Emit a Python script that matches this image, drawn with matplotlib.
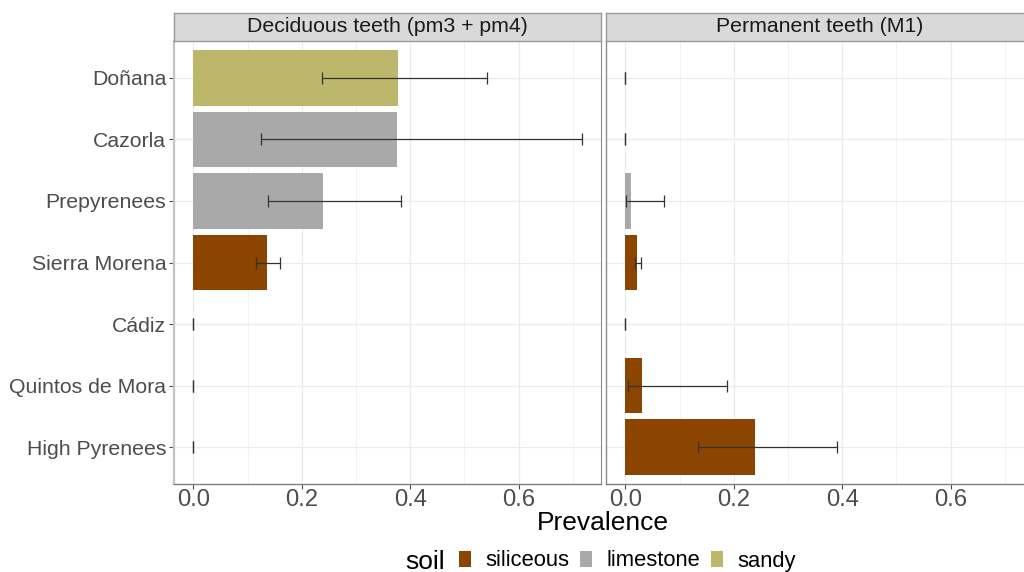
import matplotlib
matplotlib.use("Agg")
import matplotlib.pyplot as plt
from matplotlib.patches import Patch
from matplotlib.ticker import MultipleLocator

plt.rcParams['font.family'] = ['Liberation Sans', 'DejaVu Sans']

sites = ["Doñana", "Cazorla", "Prepyrenees", "Sierra Morena", "Cádiz",
         "Quintos de Mora", "High Pyrenees"]
soil = ["sandy", "limestone", "limestone", "siliceous", "siliceous",
        "siliceous", "siliceous"]

# prevalence with lower / upper confidence limits
deciduous = [0.378, 0.375, 0.239, 0.136, 0.0, 0.0, 0.0]
deciduous_lo = [0.238, 0.125, 0.137, 0.115, 0.0, 0.0, 0.0]
deciduous_hi = [0.542, 0.716, 0.382, 0.160, 0.0, 0.0, 0.0]

permanent = [0.0, 0.0, 0.0105, 0.021, 0.0, 0.031, 0.239]
permanent_lo = [0.0, 0.0, 0.002, 0.017, 0.0, 0.005, 0.134]
permanent_hi = [0.0, 0.0, 0.071, 0.028, 0.0, 0.187, 0.390]

panel_titles = ["Deciduous teeth (pm3 + pm4)", "Permanent teeth (M1)"]
soil_levels = ["siliceous", "limestone", "sandy"]
soil_colors = {"siliceous": "#8B4500", "limestone": "#A9A9A9", "sandy": "#BDB76B"}

fig = plt.figure(figsize=(10.24, 5.72), dpi=100)

H = 572
bottom = 1 - 484 / H
height = (484 - 41) / H
width = 427 / 1024
lefts = [174 / 1024, 606 / 1024]

ypos = list(range(len(sites), 0, -1))
panels = [(deciduous, deciduous_lo, deciduous_hi),
          (permanent, permanent_lo, permanent_hi)]

for i, (vals, lo, hi) in enumerate(panels):
    ax = fig.add_axes([lefts[i], bottom, width, height])
    ax.set_axisbelow(True)
    colors = [soil_colors[s] for s in soil]
    ax.barh(ypos, vals, height=0.9, color=colors, edgecolor="none")
    xerr = [[v - l for v, l in zip(vals, lo)], [h - v for v, h in zip(vals, hi)]]
    ax.errorbar(vals, ypos, xerr=xerr, fmt="none", ecolor="#333333",
                elinewidth=0.9, capsize=4.2, capthick=0.9)

    ax.set_xlim(-0.0358, 0.7518)
    ax.set_ylim(0.4, len(sites) + 0.6)
    ax.xaxis.set_minor_locator(MultipleLocator(0.1))
    ax.set_xticks([0.0, 0.2, 0.4, 0.6])
    ax.set_xticklabels(["0.0", "0.2", "0.4", "0.6"])
    ax.set_yticks(ypos)

    ax.grid(which="major", color="#EBEBEB", linewidth=0.9)
    ax.grid(which="minor", axis="x", color="#F2F2F2", linewidth=0.7)
    ax.tick_params(axis="y", which="major", labelsize=15.3, colors="#4D4D4D",
                   length=3.5, width=0.8, pad=2)
    ax.tick_params(axis="x", which="major", labelsize=17.2, colors="#4D4D4D",
                   length=3.5, width=0.8, pad=0)
    ax.tick_params(axis="x", which="minor", length=0)
    if i == 0:
        ax.set_yticklabels(sites)
    else:
        ax.set_yticklabels([])
        ax.tick_params(axis="y", length=0)

    ax.spines["left"].set_color("#C4C4C4" if i == 0 else "#8C8C8C")
    ax.spines["left"].set_linewidth(1.6 if i == 0 else 1.0)
    ax.spines["bottom"].set_color("#7F7F7F")
    ax.spines["bottom"].set_linewidth(1.0)
    ax.spines["right"].set_color("#8C8C8C")
    ax.spines["top"].set_visible(False)

    # facet strip
    strip = fig.add_axes([lefts[i], 1 - 41 / H, width, 28 / H])
    strip.set_facecolor("#D9D9D9")
    strip.set_xticks([])
    strip.set_yticks([])
    for s in strip.spines.values():
        s.set_color("#9A9A9A")
        s.set_linewidth(1.0)
    strip.text(0.5, 0.5, panel_titles[i], ha="center", va="center",
               fontsize=15.3, color="#1A1A1A", transform=strip.transAxes)

fig.text(603 / 1024, 1 - 523 / H, "Prevalence", ha="center", va="center",
         fontsize=19, color="black")

fig.text(405 / 1024, 1 - 562 / H, "soil", ha="left", va="center",
         fontsize=19, color="black")
handles = [Patch(facecolor=soil_colors[s], edgecolor="none") for s in soil_levels]
fig.legend(handles, soil_levels, loc="center left",
           bbox_to_anchor=(459 / 1024, 1 - 561 / H), ncol=3, frameon=False,
           fontsize=15.8, handlelength=0.55, handleheight=0.75,
           handletextpad=0.65, columnspacing=0.5, borderpad=0, borderaxespad=0)

fig.savefig("out.png", dpi=100)
